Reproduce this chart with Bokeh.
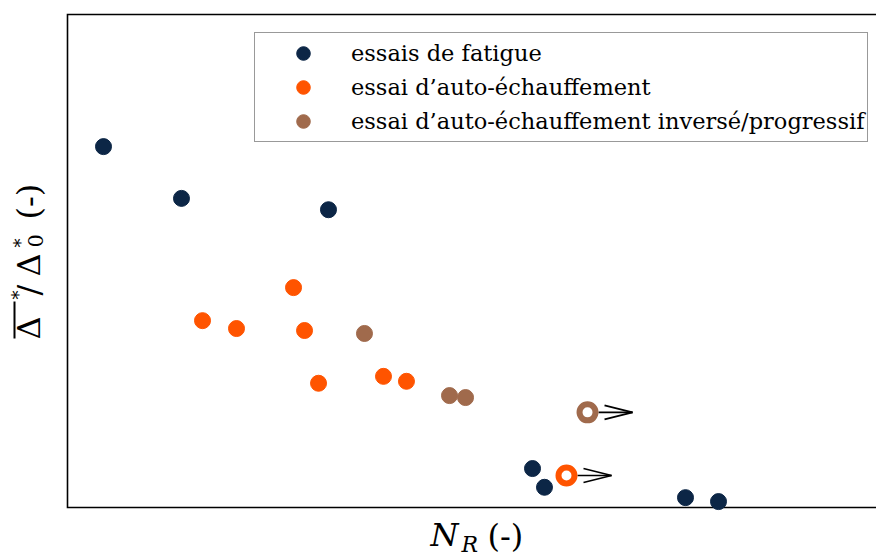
import math
from bokeh.plotting import figure
from bokeh.models import Range1d, Label, Legend, BoxAnnotation
from bokeh.embed import file_html
from bokeh.resources import INLINE

# ---- data (arbitrary units; chart has no tick labels) ----
fatigue_x = [0.445, 1.409, 3.226, 5.748, 5.896, 7.639, 8.047]
fatigue_y = [0.732, 0.627, 0.604, 0.079, 0.041, 0.020, 0.012]

autoheat_x = [2.794, 1.669, 2.089, 2.930, 3.103, 3.906, 4.190]
autoheat_y = [0.446, 0.379, 0.363, 0.359, 0.252, 0.266, 0.256]
autoheat_runout_x = [6.168]
autoheat_runout_y = [0.065]

inverse_x = [3.671, 4.722, 4.920]
inverse_y = [0.353, 0.227, 0.223]
inverse_runout_x = [6.428]
inverse_runout_y = [0.193]

labels = ["essais de fatigue",
          "essai d\u2019auto-\u00e9chauffement",
          "essai d\u2019auto-\u00e9chauffement invers\u00e9/progressif"]

NAVY = "#0c2646"
ORANGE = "#ff5400"
BROWN = "#a06a4c"
FONT = "DejaVu Serif"

# axes box (data window) and where it sits on the canvas
X0, X1 = 0.0, 10.0
Y0, Y1 = 0.0, 1.0
W, H = 876, 558
AX_L, AX_R, AX_T, AX_B = 67, 876, 14, 507   # canvas pixels of the axes box
KX = (AX_R - AX_L) / (X1 - X0)              # pixels per x unit
KY = (AX_B - AX_T) / (Y1 - Y0)              # pixels per y unit

def sx(px):
    return X0 + (px - AX_L) / KX

def sy(py):
    return Y0 + (AX_B - py) / KY

p = figure(width=W, height=H, output_backend="svg", toolbar_location=None,
           x_range=Range1d(sx(0), sx(W)), y_range=Range1d(sy(H), sy(0)),
           min_border_left=0, min_border_right=0, min_border_top=0,
           min_border_bottom=0)
p.outline_line_color = None
p.grid.visible = False
p.xaxis.visible = False
p.yaxis.visible = False
p.background_fill_color = "white"
p.border_fill_color = "white"

# axes box (left, top, bottom lines; right side falls off the canvas)
p.line([X1, X0, X0, X1], [Y1, Y1, Y0, Y0], line_color="black",
       line_width=1.6, line_join="miter")

# ---- points ----
r1 = p.scatter(fatigue_x, fatigue_y, size=16, fill_color=NAVY, line_color=NAVY)
r2 = p.scatter(autoheat_x, autoheat_y, size=16, fill_color=ORANGE, line_color=ORANGE)
r3 = p.scatter(inverse_x, inverse_y, size=16, fill_color=BROWN, line_color=BROWN)

# run-outs: hollow markers with arrows
for xs, ys, col in [(autoheat_runout_x, autoheat_runout_y, ORANGE),
                    (inverse_runout_x, inverse_runout_y, BROWN)]:
    x0s = [x + 11 / KX for x in xs]
    tip = [x + 45 / KX for x in xs]
    back = [x + 17 / KX for x in xs]
    p.segment(x0s, ys, tip, ys, line_color="black", line_width=1.6)
    p.segment(back, [y + 7 / KY for y in ys], tip, ys, line_color="black", line_width=1.6)
    p.segment(back, [y - 7 / KY for y in ys], tip, ys, line_color="black", line_width=1.6)
    p.scatter(xs, ys, size=16, fill_color="white", line_color=col, line_width=6)

legend = Legend(items=[(labels[0], [r1]), (labels[1], [r2]), (labels[2], [r3])],
                location=(254, H - 142))
legend.label_text_font = FONT
legend.label_text_font_size = "22.5px"
legend.label_text_color = "black"
legend.glyph_height = 34
legend.glyph_width = 90
legend.spacing = 0
legend.padding = 3
legend.label_standoff = 3
legend.margin = 0
legend.border_line_color = "#333333"
legend.border_line_width = 1.2
legend.background_fill_color = "white"
legend.background_fill_alpha = 1.0
p.add_layout(legend, "center")

# ---- axis labels built from text pieces ----
SHIFT = 0.4  # measured baseline offset of the svg text, in em

def lab(text, px, py, size, style="normal", angle=0.0):
    if angle == 0.0:
        py = py - SHIFT * size
    else:
        px = px - SHIFT * size
    p.add_layout(Label(x=sx(px), y=sy(py), text=text, text_font=FONT,
                       text_font_size=f"{size}px", text_font_style=style,
                       text_align="left", text_baseline="alphabetic",
                       angle=angle, text_color="black"))

# x label: N_R (-)
lab("N", 430, 547, 32, "italic")
lab("R", 461, 553, 22, "italic")
lab("(-)", 487, 548, 32)

# y label: overline(Delta)^* / Delta_0^* (-)   (rotated)
A = math.pi / 2
lab("\u0394", 41, 339, 32, angle=A)
p.add_layout(BoxAnnotation(left=sx(13), right=sx(15), bottom=sy(338), top=sy(301),
                           fill_color="black", fill_alpha=1.0, line_color=None))
lab("*", 25, 299, 18, angle=A)
lab("/", 41, 295, 32, angle=A)
lab("\u0394", 41, 276, 32, angle=A)
lab("*", 27, 247, 18, angle=A)
lab("0", 43, 247, 21, angle=A)
lab("(-)", 41, 219, 32, angle=A)

open("out.html", "w").write(file_html(p, INLINE))
